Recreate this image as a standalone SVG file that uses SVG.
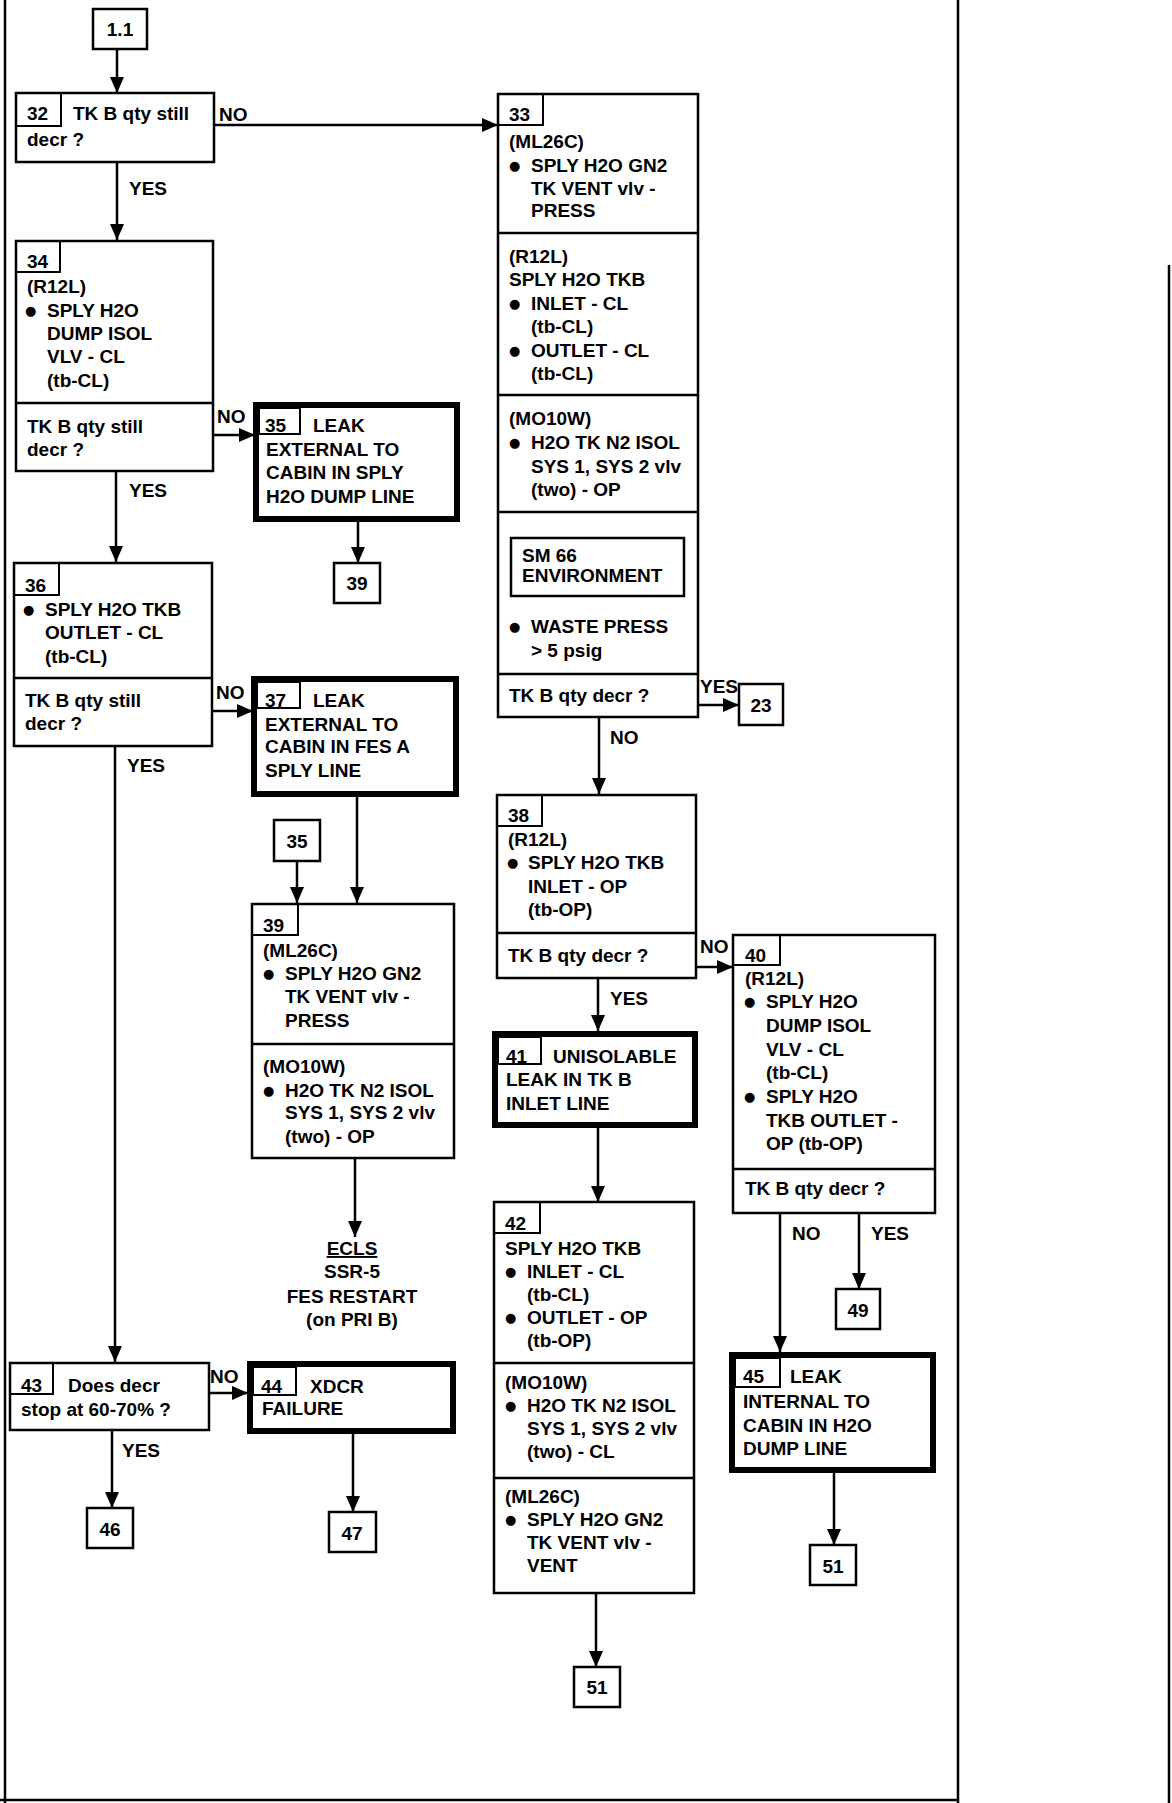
<svg xmlns="http://www.w3.org/2000/svg" width="1172" height="1803" viewBox="0 0 1172 1803">
<style>
.box{fill:#fff;stroke:#000;stroke-width:2.5}
.thick{fill:#fff;stroke:#000;stroke-width:6}
.num{fill:none;stroke:#000;stroke-width:2}
.div{stroke:#000;stroke-width:2.5}
.t{font-family:"Liberation Sans",Arial,sans-serif;font-weight:bold;font-size:19px;fill:#000}
.c{text-anchor:middle}
.b{font-family:"DejaVu Sans",sans-serif;font-size:13px;fill:#000}
.ln{stroke:#000;stroke-width:2.5;fill:none}
.frame{stroke:#000;stroke-width:2.5;fill:none}
</style>
<defs>
<marker id="arr" viewBox="0 0 16 14" refX="16" refY="7" markerWidth="16" markerHeight="14" markerUnits="userSpaceOnUse" orient="auto">
<path d="M0,0 L16,7 L0,14 z" fill="#000"/>
</marker>
</defs>
<rect width="1172" height="1803" fill="#fff"/>
<g id="frame">
<line class="frame" x1="5" y1="0" x2="5" y2="1803"/>
<line class="frame" x1="958" y1="0" x2="958" y2="1803"/>
<line class="frame" x1="1169" y1="265" x2="1169" y2="1803"/>
<line class="frame" x1="0" y1="1800" x2="958" y2="1800"/>
</g>
<g id="connectors">
<line class="ln" x1="117" y1="49" x2="117" y2="93" marker-end="url(#arr)"/>
<line class="ln" x1="214" y1="125" x2="498" y2="125" marker-end="url(#arr)"/>
<line class="ln" x1="117" y1="162" x2="117" y2="240" marker-end="url(#arr)"/>
<line class="ln" x1="213" y1="435" x2="255" y2="435" marker-end="url(#arr)"/>
<line class="ln" x1="116" y1="471" x2="116" y2="562" marker-end="url(#arr)"/>
<line class="ln" x1="358" y1="522" x2="358" y2="563" marker-end="url(#arr)"/>
<line class="ln" x1="212" y1="711" x2="253" y2="711" marker-end="url(#arr)"/>
<line class="ln" x1="115" y1="746" x2="115" y2="1362" marker-end="url(#arr)"/>
<line class="ln" x1="357" y1="797" x2="357" y2="903" marker-end="url(#arr)"/>
<line class="ln" x1="297" y1="861" x2="297" y2="903" marker-end="url(#arr)"/>
<line class="ln" x1="355" y1="1158" x2="355" y2="1237" marker-end="url(#arr)"/>
<line class="ln" x1="697" y1="705" x2="739" y2="705" marker-end="url(#arr)"/>
<line class="ln" x1="599" y1="717" x2="599" y2="794" marker-end="url(#arr)"/>
<line class="ln" x1="696" y1="967" x2="733" y2="967" marker-end="url(#arr)"/>
<line class="ln" x1="598" y1="978" x2="598" y2="1031" marker-end="url(#arr)"/>
<line class="ln" x1="598" y1="1128" x2="598" y2="1202" marker-end="url(#arr)"/>
<line class="ln" x1="596" y1="1593" x2="596" y2="1667" marker-end="url(#arr)"/>
<line class="ln" x1="780" y1="1213" x2="780" y2="1352" marker-end="url(#arr)"/>
<line class="ln" x1="859" y1="1213" x2="859" y2="1289" marker-end="url(#arr)"/>
<line class="ln" x1="834" y1="1473" x2="834" y2="1545" marker-end="url(#arr)"/>
<line class="ln" x1="209" y1="1393" x2="248" y2="1393" marker-end="url(#arr)"/>
<line class="ln" x1="112" y1="1430" x2="112" y2="1508" marker-end="url(#arr)"/>
<line class="ln" x1="353" y1="1434" x2="353" y2="1512" marker-end="url(#arr)"/>
<text class="t" x="219" y="121">NO</text>
<text class="t" x="129" y="195">YES</text>
<text class="t" x="217" y="423">NO</text>
<text class="t" x="129" y="497">YES</text>
<text class="t" x="216" y="699">NO</text>
<text class="t" x="127" y="772">YES</text>
<text class="t" x="700" y="693">YES</text>
<text class="t" x="610" y="744">NO</text>
<text class="t" x="700" y="953">NO</text>
<text class="t" x="610" y="1005">YES</text>
<text class="t" x="792" y="1240">NO</text>
<text class="t" x="871" y="1240">YES</text>
<text class="t" x="210" y="1383">NO</text>
<text class="t" x="122" y="1457">YES</text>
</g>
<g id="n1_1">
<rect class="box" x="93" y="9" width="54" height="40"/>
<text class="t c" x="120" y="36">1.1</text>
</g>
<g id="n32">
<rect class="box" x="16" y="93" width="198" height="69"/>
<rect class="num" x="16" y="93" width="45" height="33"/>
<text class="t" x="27" y="120">32</text>
<text class="t" x="73" y="120">TK B qty still</text>
<text class="t" x="27" y="146">decr ?</text>
</g>
<g id="n34">
<rect class="box" x="16" y="241" width="197" height="230"/>
<rect class="num" x="16" y="241" width="44" height="31"/>
<line class="div" x1="16" y1="403" x2="213" y2="403"/>
<text class="t" x="27" y="268">34</text>
<text class="t" x="27" y="293">(R12L)</text>
<text class="b" x="25" y="315">●</text>
<text class="t" x="47" y="317">SPLY H2O</text>
<text class="t" x="47" y="340">DUMP ISOL</text>
<text class="t" x="47" y="363">VLV - CL</text>
<text class="t" x="47" y="387">(tb-CL)</text>
<text class="t" x="27" y="433">TK B qty still</text>
<text class="t" x="27" y="456">decr ?</text>
</g>
<g id="n35">
<rect class="thick" x="256" y="405" width="201" height="114"/>
<rect class="num" x="259" y="408" width="41" height="26"/>
<text class="t" x="265" y="432">35</text>
<text class="t" x="313" y="432">LEAK</text>
<text class="t" x="266" y="456">EXTERNAL TO</text>
<text class="t" x="266" y="479">CABIN IN SPLY</text>
<text class="t" x="266" y="503">H2O DUMP LINE</text>
</g>
<g id="r39a">
<rect class="box" x="334" y="563" width="46" height="40"/>
<text class="t c" x="357" y="590">39</text>
</g>
<g id="n36">
<rect class="box" x="14" y="563" width="198" height="183"/>
<rect class="num" x="14" y="563" width="45" height="32"/>
<line class="div" x1="14" y1="678" x2="212" y2="678"/>
<text class="t" x="25" y="592">36</text>
<text class="b" x="23" y="614">●</text>
<text class="t" x="45" y="616">SPLY H2O TKB</text>
<text class="t" x="45" y="639">OUTLET - CL</text>
<text class="t" x="45" y="663">(tb-CL)</text>
<text class="t" x="25" y="707">TK B qty still</text>
<text class="t" x="25" y="730">decr ?</text>
</g>
<g id="n37">
<rect class="thick" x="254" y="679" width="202" height="115"/>
<rect class="num" x="257" y="682" width="43" height="26"/>
<text class="t" x="265" y="707">37</text>
<text class="t" x="313" y="707">LEAK</text>
<text class="t" x="265" y="731">EXTERNAL TO</text>
<text class="t" x="265" y="753">CABIN IN FES A</text>
<text class="t" x="265" y="777">SPLY LINE</text>
</g>
<g id="r35">
<rect class="box" x="274" y="820" width="46" height="41"/>
<text class="t c" x="297" y="848">35</text>
</g>
<g id="n39">
<rect class="box" x="252" y="904" width="202" height="254"/>
<rect class="num" x="252" y="904" width="46" height="31"/>
<line class="div" x1="252" y1="1044" x2="454" y2="1044"/>
<text class="t" x="263" y="932">39</text>
<text class="t" x="263" y="957">(ML26C)</text>
<text class="b" x="263" y="978">●</text>
<text class="t" x="285" y="980">SPLY H2O GN2</text>
<text class="t" x="285" y="1003">TK VENT vlv -</text>
<text class="t" x="285" y="1027">PRESS</text>
<text class="t" x="263" y="1073">(MO10W)</text>
<text class="b" x="263" y="1095">●</text>
<text class="t" x="285" y="1097">H2O TK N2 ISOL</text>
<text class="t" x="285" y="1119">SYS 1, SYS 2 vlv</text>
<text class="t" x="285" y="1143">(two) - OP</text>
</g>
<g id="ecls">
<text class="t c" x="352" y="1255" text-decoration="underline">ECLS</text>
<text class="t c" x="352" y="1278">SSR-5</text>
<text class="t c" x="352" y="1303">FES RESTART</text>
<text class="t c" x="352" y="1326">(on PRI B)</text>
</g>
<g id="n33">
<rect class="box" x="498" y="94" width="200" height="623"/>
<rect class="num" x="498" y="94" width="45" height="31"/>
<line class="div" x1="498" y1="233" x2="698" y2="233"/>
<line class="div" x1="498" y1="395" x2="698" y2="395"/>
<line class="div" x1="498" y1="512" x2="698" y2="512"/>
<line class="div" x1="498" y1="674" x2="698" y2="674"/>
<text class="t" x="509" y="121">33</text>
<text class="t" x="509" y="148">(ML26C)</text>
<text class="b" x="509" y="170">●</text>
<text class="t" x="531" y="172">SPLY H2O GN2</text>
<text class="t" x="531" y="195">TK VENT vlv -</text>
<text class="t" x="531" y="217">PRESS</text>
<text class="t" x="509" y="263">(R12L)</text>
<text class="t" x="509" y="286">SPLY H2O TKB</text>
<text class="b" x="509" y="308">●</text>
<text class="t" x="531" y="310">INLET - CL</text>
<text class="t" x="531" y="333">(tb-CL)</text>
<text class="b" x="509" y="355">●</text>
<text class="t" x="531" y="357">OUTLET - CL</text>
<text class="t" x="531" y="380">(tb-CL)</text>
<text class="t" x="509" y="425">(MO10W)</text>
<text class="b" x="509" y="447">●</text>
<text class="t" x="531" y="449">H2O TK N2 ISOL</text>
<text class="t" x="531" y="473">SYS 1, SYS 2 vlv</text>
<text class="t" x="531" y="496">(two) - OP</text>
<rect class="box" x="511" y="538" width="173" height="58"/>
<text class="t" x="522" y="562">SM 66</text>
<text class="t" x="522" y="582">ENVIRONMENT</text>
<text class="b" x="509" y="631">●</text>
<text class="t" x="531" y="633">WASTE PRESS</text>
<text class="t" x="531" y="657">&gt; 5 psig</text>
<text class="t" x="509" y="702">TK B qty decr ?</text>
</g>
<g id="r23">
<rect class="box" x="739" y="684" width="44" height="41"/>
<text class="t c" x="761" y="712">23</text>
</g>
<g id="n38">
<rect class="box" x="497" y="795" width="199" height="183"/>
<rect class="num" x="497" y="795" width="45" height="31"/>
<line class="div" x1="497" y1="933" x2="696" y2="933"/>
<text class="t" x="508" y="822">38</text>
<text class="t" x="508" y="846">(R12L)</text>
<text class="b" x="507" y="867">●</text>
<text class="t" x="528" y="869">SPLY H2O TKB</text>
<text class="t" x="528" y="893">INLET - OP</text>
<text class="t" x="528" y="916">(tb-OP)</text>
<text class="t" x="508" y="962">TK B qty decr ?</text>
</g>
<g id="n40">
<rect class="box" x="733" y="935" width="202" height="278"/>
<rect class="num" x="733" y="935" width="47" height="30"/>
<line class="div" x1="733" y1="1169" x2="935" y2="1169"/>
<text class="t" x="745" y="962">40</text>
<text class="t" x="745" y="985">(R12L)</text>
<text class="b" x="744" y="1006">●</text>
<text class="t" x="766" y="1008">SPLY H2O</text>
<text class="t" x="766" y="1032">DUMP ISOL</text>
<text class="t" x="766" y="1056">VLV - CL</text>
<text class="t" x="766" y="1079">(tb-CL)</text>
<text class="b" x="744" y="1101">●</text>
<text class="t" x="766" y="1103">SPLY H2O</text>
<text class="t" x="766" y="1127">TKB OUTLET -</text>
<text class="t" x="766" y="1150">OP (tb-OP)</text>
<text class="t" x="745" y="1195">TK B qty decr ?</text>
</g>
<g id="n41">
<rect class="thick" x="495" y="1034" width="200" height="91"/>
<rect class="num" x="498" y="1037" width="43" height="27"/>
<text class="t" x="506" y="1063">41</text>
<text class="t" x="553" y="1063">UNISOLABLE</text>
<text class="t" x="506" y="1086">LEAK IN TK B</text>
<text class="t" x="506" y="1110">INLET LINE</text>
</g>
<g id="n42">
<rect class="box" x="494" y="1202" width="200" height="391"/>
<rect class="num" x="494" y="1202" width="46" height="31"/>
<line class="div" x1="494" y1="1363" x2="694" y2="1363"/>
<line class="div" x1="494" y1="1478" x2="694" y2="1478"/>
<text class="t" x="505" y="1230">42</text>
<text class="t" x="505" y="1255">SPLY H2O TKB</text>
<text class="b" x="505" y="1276">●</text>
<text class="t" x="527" y="1278">INLET - CL</text>
<text class="t" x="527" y="1301">(tb-CL)</text>
<text class="b" x="505" y="1322">●</text>
<text class="t" x="527" y="1324">OUTLET - OP</text>
<text class="t" x="527" y="1347">(tb-OP)</text>
<text class="t" x="505" y="1389">(MO10W)</text>
<text class="b" x="505" y="1410">●</text>
<text class="t" x="527" y="1412">H2O TK N2 ISOL</text>
<text class="t" x="527" y="1435">SYS 1, SYS 2 vlv</text>
<text class="t" x="527" y="1458">(two) - CL</text>
<text class="t" x="505" y="1503">(ML26C)</text>
<text class="b" x="505" y="1524">●</text>
<text class="t" x="527" y="1526">SPLY H2O GN2</text>
<text class="t" x="527" y="1549">TK VENT vlv -</text>
<text class="t" x="527" y="1572">VENT</text>
</g>
<g id="r51a">
<rect class="box" x="574" y="1667" width="46" height="40"/>
<text class="t c" x="597" y="1694">51</text>
</g>
<g id="r49">
<rect class="box" x="836" y="1289" width="44" height="40"/>
<text class="t c" x="858" y="1317">49</text>
</g>
<g id="n45">
<rect class="thick" x="732" y="1355" width="201" height="115"/>
<rect class="num" x="735" y="1358" width="45" height="29"/>
<text class="t" x="743" y="1383">45</text>
<text class="t" x="790" y="1383">LEAK</text>
<text class="t" x="743" y="1408">INTERNAL TO</text>
<text class="t" x="743" y="1432">CABIN IN H2O</text>
<text class="t" x="743" y="1455">DUMP LINE</text>
</g>
<g id="r51b">
<rect class="box" x="810" y="1545" width="46" height="40"/>
<text class="t c" x="833" y="1573">51</text>
</g>
<g id="n43">
<rect class="box" x="10" y="1363" width="199" height="67"/>
<rect class="num" x="10" y="1363" width="43" height="31"/>
<text class="t" x="21" y="1392">43</text>
<text class="t" x="68" y="1392">Does decr</text>
<text class="t" x="21" y="1416">stop at 60-70% ?</text>
</g>
<g id="n44">
<rect class="thick" x="250" y="1364" width="203" height="67"/>
<rect class="num" x="253" y="1367" width="43" height="28"/>
<text class="t" x="261" y="1393">44</text>
<text class="t" x="310" y="1393">XDCR</text>
<text class="t" x="262" y="1415">FAILURE</text>
</g>
<g id="r46">
<rect class="box" x="87" y="1508" width="46" height="40"/>
<text class="t c" x="110" y="1536">46</text>
</g>
<g id="r47">
<rect class="box" x="329" y="1512" width="47" height="40"/>
<text class="t c" x="352" y="1540">47</text>
</g>
</svg>
